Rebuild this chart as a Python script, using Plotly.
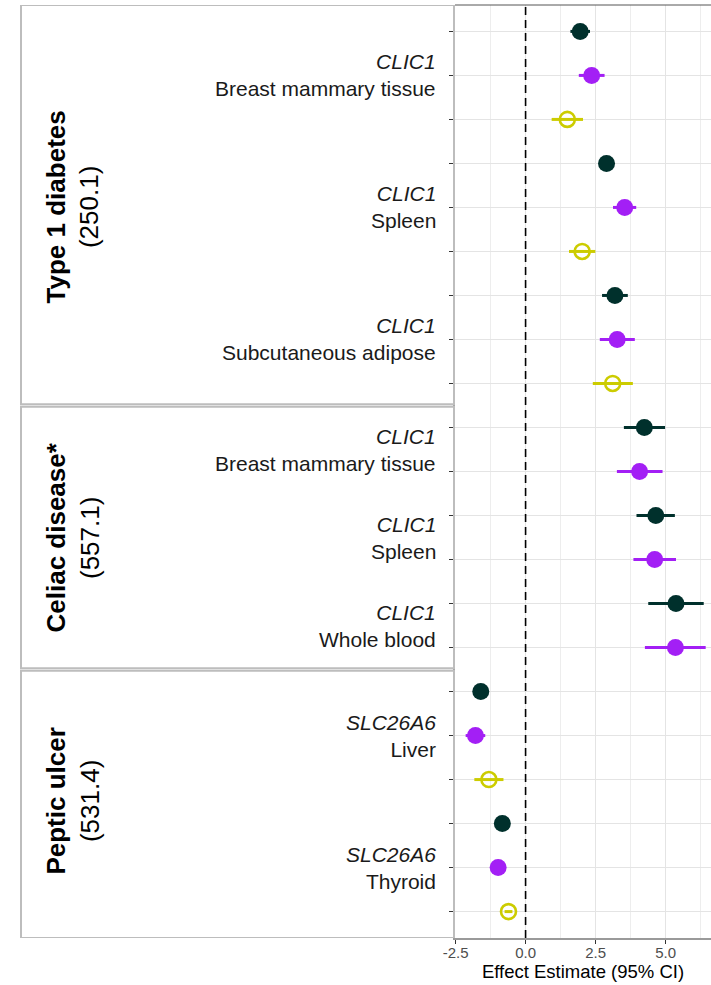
import plotly.graph_objects as go

# ---------------- data ----------------
groups = ["Type 1 diabetes", "Celiac disease*", "Peptic ulcer"]
group_codes = ["(250.1)", "(557.1)", "(531.4)"]
group_rows = [(1, 9), (10, 15), (16, 21)]          # first/last row of each group

label_genes = ["CLIC1", "CLIC1", "CLIC1", "CLIC1", "CLIC1", "CLIC1", "SLC26A6", "SLC26A6"]
label_tissues = ["Breast mammary tissue", "Spleen", "Subcutaneous adipose",
                 "Breast mammary tissue", "Spleen", "Whole blood",
                 "Liver", "Thyroid"]
label_rows = [2, 5, 8, 10.5, 12.5, 14.5, 17, 20]

series_names = ["Method A", "Method B", "Method C"]
series_colors = ["#00302C", "#A31FF5", "#CCCC00"]

rows_a = [1, 4, 7, 10, 12, 14, 16, 19]
est_a = [1.95, 2.89, 3.19, 4.24, 4.65, 5.37, -1.60, -0.83]
lo_a = [1.60, 2.65, 2.73, 3.51, 3.96, 4.38, -1.75, -0.95]
hi_a = [2.30, 3.13, 3.65, 4.98, 5.33, 6.36, -1.45, -0.71]

rows_b = [2, 5, 8, 11, 13, 15, 17, 20]
est_b = [2.36, 3.54, 3.27, 4.07, 4.61, 5.35, -1.79, -0.98]
lo_b = [1.90, 3.12, 2.65, 3.26, 3.85, 4.26, -2.14, -1.10]
hi_b = [2.82, 3.95, 3.90, 4.89, 5.37, 6.43, -1.44, -0.86]

rows_c = [3, 6, 9, 18, 21]
est_c = [1.49, 2.02, 3.11, -1.31, -0.61]
lo_c = [0.93, 1.55, 2.40, -1.83, -0.75]
hi_c = [2.05, 2.49, 3.83, -0.79, -0.47]

x_ticks = [-2.5, 0.0, 2.5, 5.0]
x_ticklabels = ["-2.5", "0.0", "2.5", "5.0"]
x_minor = [-1.25, 1.25, 3.75, 6.25]
x_title = "Effect Estimate (95% CI)"

# ---------------- figure ----------------
FONT = "Liberation Sans, Arial, sans-serif"
L, R, T, B = 455, 0, 5, 47
W, H = 711, 985
plot_w = W - L - R

def px_to_paper(px):
    return (px - L) / plot_w

fig = go.Figure()

series = [
    (rows_a, est_a, lo_a, hi_a, "circle", 17, 0),
    (rows_b, est_b, lo_b, hi_b, "circle", 17, 0),
    (rows_c, est_c, lo_c, hi_c, "circle-open", 15, 2.6),
]
for i, (rows, est, lo, hi, sym, size, lw) in enumerate(series):
    col = series_colors[i]
    fig.add_trace(go.Scatter(
        x=est, y=rows, mode="markers", name=series_names[i],
        marker=dict(symbol=sym, size=size, color=col,
                    line=dict(color=col, width=lw)),
        error_x=dict(type="data", symmetric=False,
                     array=[h - e for h, e in zip(hi, est)],
                     arrayminus=[e - l for e, l in zip(est, lo)],
                     width=0, thickness=3, color=col),
        showlegend=False,
    ))

n_rows = group_rows[-1][1]
fig.update_layout(
    width=W, height=H,
    margin=dict(l=L, r=R, t=T, b=B, pad=0),
    paper_bgcolor="white", plot_bgcolor="white",
    font=dict(family=FONT, color="#000000"),
    xaxis=dict(
        range=[-2.52, 6.62], tickvals=x_ticks, ticktext=x_ticklabels,
        tickfont=dict(size=15, color="#4d4d4d"),
        ticks="outside", ticklen=4, tickcolor="#333333", tickwidth=1,
        ticklabelstandoff=-4,
        showgrid=True, gridcolor="#e4e4e4", gridwidth=1.3,
        minor=dict(tickvals=x_minor, showgrid=True, gridcolor="#ededed", gridwidth=1),
        showline=True, linecolor="#9a9a9a", linewidth=1.5,
        zeroline=False,
        title=dict(text=x_title, font=dict(size=18.5, color="#000000"), standoff=2),
    ),
    yaxis=dict(
        range=[n_rows + 0.6, 0.4],
        tickvals=list(range(1, n_rows + 1)), ticktext=[""] * n_rows,
        ticks="outside", ticklen=4, tickcolor="#333333", tickwidth=1,
        showgrid=True, gridcolor="#e4e4e4", gridwidth=1.3,
        showline=True, linecolor="#9a9a9a", linewidth=2,
        zeroline=False,
    ),
)

# reference line at 0
fig.add_shape(type="line", xref="x", yref="paper", x0=0, x1=0, y0=0, y1=1,
              line=dict(color="#000000", width=1.6, dash="8px,5px"))
# top border of panel
fig.add_shape(type="line", xref="paper", yref="paper", x0=0, x1=1, y0=1, y1=1,
              line=dict(color="#555555", width=1))

# strip boxes and labels
for gi, (r0, r1) in enumerate(group_rows):
    top = r0 - (0.6 if gi == 0 else 0.5) + (0.03 if gi > 0 else 0)
    bot = r1 + (0.6 if gi == len(group_rows) - 1 else 0.5) - (0.03 if gi < len(group_rows) - 1 else 0)
    fig.add_shape(type="rect", xref="paper", yref="y",
                  x0=px_to_paper(21), x1=px_to_paper(454), y0=top, y1=bot,
                  line=dict(color="#bdbdbd", width=2), layer="above")
    fig.add_annotation(
        xref="paper", yref="y", x=px_to_paper(73), y=(r0 + r1) / 2,
        text=f"<b>{groups[gi]}</b><br>{group_codes[gi]}",
        textangle=-90, showarrow=False, xanchor="center", yanchor="middle",
        font=dict(size=26, family=FONT, color="#000000"), align="center",
    )

for g, t, r in zip(label_genes, label_tissues, label_rows):
    fig.add_annotation(
        xref="paper", yref="y", x=px_to_paper(438), y=r,
        text=f"<i>{g}</i><br>{t}", showarrow=False,
        xanchor="right", yanchor="middle", align="right",
        font=dict(size=21, family=FONT, color="#1a1a1a"),
    )

fig.write_html(
    "out.html",
    config={"displayModeBar": False},
    post_script="document.body.style.margin='0';document.body.style.padding='0';"
                "document.body.style.overflow='hidden';",
)
